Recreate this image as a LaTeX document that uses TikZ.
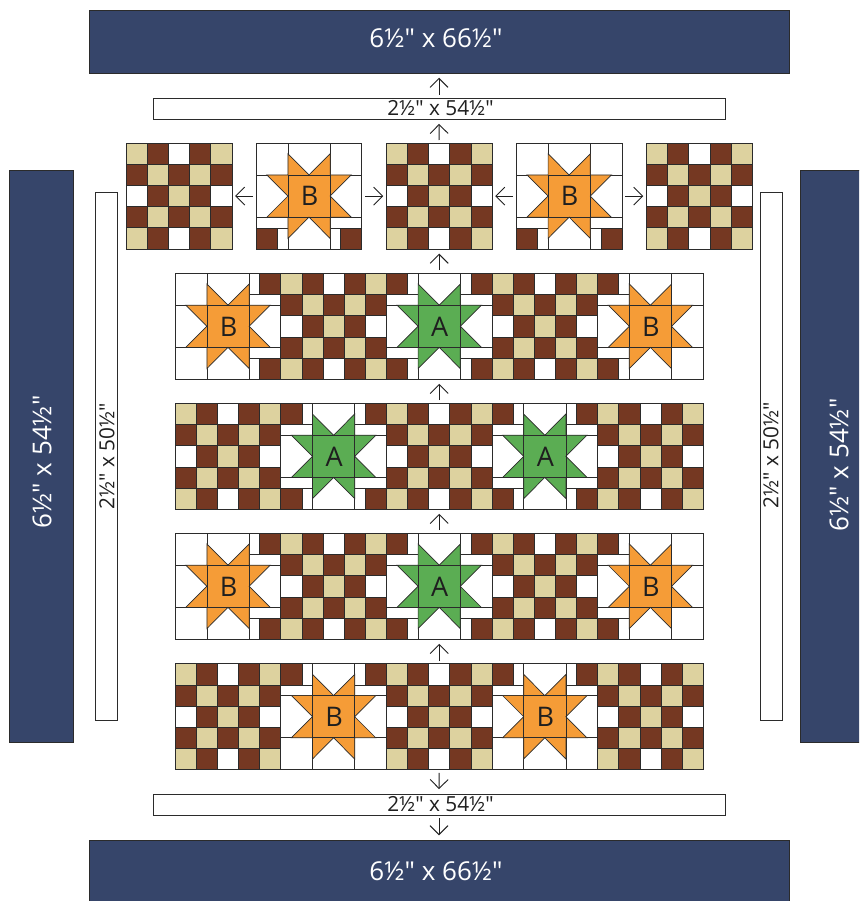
\documentclass[tikz,border=0pt]{standalone}
\usepackage{fontspec}
\newfontfamily\lbl{Open Sans}
\definecolor{navy}{HTML}{36456A}
\definecolor{brn}{HTML}{753822}
\definecolor{tan}{HTML}{DDD29F}
\definecolor{org}{HTML}{F59C37}
\definecolor{grn}{HTML}{5BAD53}
\definecolor{ink}{HTML}{2B2B2B}
\definecolor{txt}{HTML}{1F1F1F}
\usetikzlibrary{arrows.meta}
\tikzset{
  x=1pt,y=-1pt,
  navybar/.style={draw=ink,line width=0.5pt,fill=navy,inner sep=0pt},
  navytext/.style={text=white,inner sep=0pt,font=\lbl\fontsize{26}{30}\selectfont},
  whitebar/.style={draw=ink,line width=0.8pt,fill=white,inner sep=0pt},
  whitetext/.style={text=txt,inner sep=0pt,font=\lbl\fontsize{20.8}{25}\selectfont},
  blockbox/.style={inner sep=0pt,minimum width=105.6pt,minimum height=105.8pt},
  seam/.style={draw=ink,line width=0.7pt},
  arr/.style={draw=txt,line width=0.9pt,-{Straight Barb[length=9pt,width=18pt,line width=0.9pt]},shorten >=4.5pt,shorten <=3pt},
  side/.style={shorten >=3pt,shorten <=3pt},
}
% checker block: name, x, y
\newcommand{\chk}[3]{%
  \node[blockbox] (#1) at (#2+52.8,#3+52.9) {};
  \begin{scope}[shift={(#2,#3)}]
    \foreach \r/\rowcols in {0/{tan,brn,white,brn,tan},1/{brn,tan,brn,tan,brn},2/{white,brn,tan,brn,white},3/{brn,tan,brn,tan,brn},4/{tan,brn,white,brn,tan}}{
      \foreach \c [count=\k from 0] in \rowcols {
        \path[seam,fill=\c] (\k*21.12,\r*21.16) rectangle ++(21.12,21.16);
      }
    }
  \end{scope}
}
% star block: name, x, y, colour, label, TL, TR, BL, BR flags
\newcommand{\str}[9]{%
  \node[blockbox] (#1) at (#2+52.8,#3+52.9) {};
  \begin{scope}[shift={(#2,#3)}]
    \path[seam,fill=white] (0,0) rectangle (105.6,105.8);
    \draw[seam] (0,31.8)--(105.6,31.8) (0,74)--(105.6,74) (31.7,0)--(31.7,105.8) (73.9,0)--(73.9,105.8);
    \ifnum#6=1 \draw[seam] (0,21.1)--(31.7,21.1); \path[seam,fill=brn] (0,0) rectangle (21.1,21.1); \fi
    \ifnum#7=1 \draw[seam] (73.9,21.1)--(105.6,21.1); \path[seam,fill=brn] (84.5,0) rectangle (105.6,21.1); \fi
    \ifnum#8=1 \draw[seam] (0,84.7)--(31.7,84.7); \path[seam,fill=brn] (0,84.7) rectangle (21.1,105.8); \fi
    \ifnum#9=1 \draw[seam] (73.9,84.7)--(105.6,84.7); \path[seam,fill=brn] (84.5,84.7) rectangle (105.6,105.8); \fi
    \path[seam,fill=#4] (31.7,10.6)--(52.8,31.8)--(73.9,10.6)--(73.9,31.8)--(95,31.8)--(73.9,52.9)--(95,74)--(73.9,74)--(73.9,95.2)--(52.8,74)--(31.7,95.2)--(31.7,74)--(10.6,74)--(31.7,52.9)--(10.6,31.8)--(31.7,31.8)--cycle;
    \draw[seam] (31.7,31.8) rectangle (73.9,74);
    \node[text=txt,inner sep=0pt,font=\lbl\fontsize{27}{30}\selectfont] at (53.3,53) {#5};
  \end{scope}
}
\begin{document}
\begin{tikzpicture}
\clip (0,0) rectangle (859,901);
\useasboundingbox (0,0) rectangle (859,901);
% bars
\node[navybar,minimum width=700pt,minimum height=63pt] (topnavy) at (439,41.5) {};
\node[navytext] (topnavyt) at (436,38) {6½" x 66½"};
\node[navybar,minimum width=700pt,minimum height=62pt] (botnavy) at (439,871) {};
\node[navytext] (botnavyt) at (436,871) {6½" x 66½"};
\node[navybar,minimum width=64pt,minimum height=572pt] (leftnavy) at (41,456) {};
\node[navybar,minimum width=64pt,minimum height=572pt] (rightnavy) at (832,456) {};
\node[navytext,rotate=90] (leftnavyt) at (42,462) {6½" x 54½"};
\node[navytext,rotate=90] (rightnavyt) at (839,465) {6½" x 54½"};
\node[whitebar,minimum width=572pt,minimum height=21pt] (topw) at (439,108.5) {};
\node[whitetext] (topwt) at (440.5,108) {2½" x 54½"};
\node[whitebar,minimum width=572pt,minimum height=21pt] (botw) at (439,804.5) {};
\node[whitetext] (botwt) at (440.5,804) {2½" x 54½"};
\node[whitebar,minimum width=22pt,minimum height=528pt] (leftw) at (106,456) {};
\node[whitebar,minimum width=22pt,minimum height=528pt] (rightw) at (771,456) {};
\node[whitetext,rotate=90] (leftwt) at (107,456) {2½" x 50½"};
\node[whitetext,rotate=90] (rightwt) at (771,455) {2½" x 50½"};
% top row
\chk{t1}{126.3}{143.2}
\str{t2}{256.2}{143.2}{org}{B}{0}{0}{1}{1}
\chk{t3}{386.4}{143.2}
\str{t4}{516.4}{143.2}{org}{B}{0}{0}{1}{1}
\chk{t5}{646.5}{143.2}
% row 1
\str{a1}{175.2}{273.4}{org}{B}{0}{1}{0}{1}
\chk{a2}{280.8}{273.4}
\str{a3}{386.4}{273.4}{grn}{A}{1}{1}{1}{1}
\chk{a4}{492}{273.4}
\str{a5}{597.6}{273.4}{org}{B}{1}{0}{1}{0}
% row 2
\chk{b1}{175.2}{403.4}
\str{b2}{280.8}{403.4}{grn}{A}{1}{1}{1}{1}
\chk{b3}{386.4}{403.4}
\str{b4}{492}{403.4}{grn}{A}{1}{1}{1}{1}
\chk{b5}{597.6}{403.4}
% row 3
\str{c1}{175.2}{533.4}{org}{B}{0}{1}{0}{1}
\chk{c2}{280.8}{533.4}
\str{c3}{386.4}{533.4}{grn}{A}{1}{1}{1}{1}
\chk{c4}{492}{533.4}
\str{c5}{597.6}{533.4}{org}{B}{1}{0}{1}{0}
% row 4
\chk{d1}{175.2}{663.8}
\str{d2}{280.8}{663.8}{org}{B}{1}{1}{0}{0}
\chk{d3}{386.4}{663.8}
\str{d4}{492}{663.8}{org}{B}{1}{1}{0}{0}
\chk{d5}{597.6}{663.8}
% arrows
\draw[arr] (topw.north) -- (topnavy.south);
\draw[arr] (t3.north) -- (topw.south);
\draw[arr,side] (t2.west) -- (t1.east);
\draw[arr,side] (t2.east) -- (t3.west);
\draw[arr,side] (t4.west) -- (t3.east);
\draw[arr,side] (t4.east) -- (t5.west);
\draw[arr] (a3.north) -- (t3.south);
\draw[arr] (b3.north) -- (a3.south);
\draw[arr] (c3.north) -- (b3.south);
\draw[arr] (d3.north) -- (c3.south);
\draw[arr] (d3.south) -- (botw.north);
\draw[arr] (botw.south) -- (botnavy.north);
\end{tikzpicture}
\end{document}
